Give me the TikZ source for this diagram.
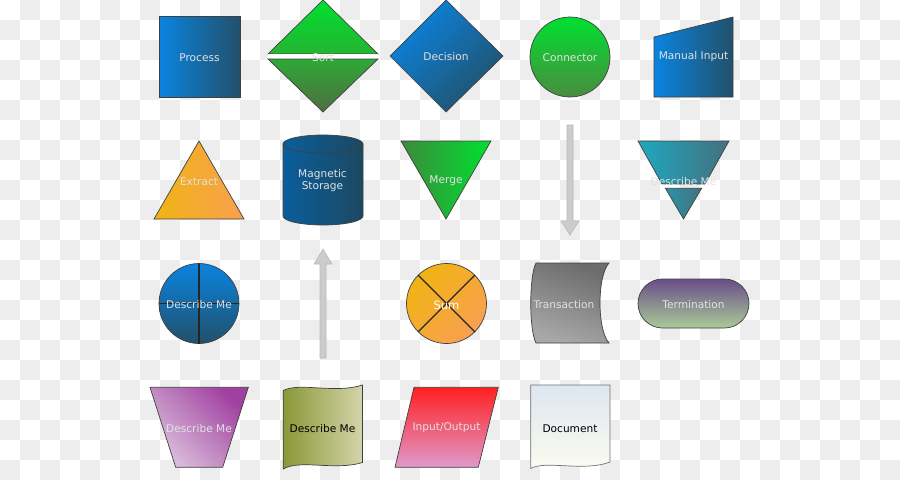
\documentclass[tikz,border=0pt]{standalone}
\usepackage{fontspec}
\setmainfont{DejaVu Sans}
\definecolor{bgg}{RGB}{237,237,237}
\definecolor{bluea}{HTML}{0A84E0}
\definecolor{blueb}{HTML}{22506A}
\definecolor{greena}{HTML}{00E030}
\definecolor{greenm}{HTML}{24B432}
\definecolor{greenn}{HTML}{2EA836}
\definecolor{greenb}{HTML}{4E6E40}
\definecolor{greenc}{HTML}{4A8C40}
\definecolor{mergea}{HTML}{3C8A3C}
\definecolor{orna}{HTML}{F0B414}
\definecolor{ornb}{HTML}{F8A050}
\definecolor{maga}{HTML}{0A5E9C}
\definecolor{magb}{HTML}{1C4860}
\definecolor{teala}{HTML}{1FA8C0}
\definecolor{tealb}{HTML}{44707E}
\definecolor{tealc}{HTML}{2A94A8}
\definecolor{transa}{HTML}{6C6C6C}
\definecolor{transb}{HTML}{A8A8A8}
\definecolor{terma}{HTML}{6A4E88}
\definecolor{termb}{HTML}{AACA98}
\definecolor{purpa}{HTML}{A040A0}
\definecolor{purpb}{HTML}{DCC0DC}
\definecolor{olivea}{HTML}{8A9838}
\definecolor{oliveb}{HTML}{D4D4AA}
\definecolor{reda}{HTML}{FF2020}
\definecolor{redb}{HTML}{E09ACC}
\definecolor{doca}{HTML}{DEE6F0}
\definecolor{docb}{HTML}{FCFCF0}
\definecolor{labc}{HTML}{E2E2E2}
\begin{document}
\begin{tikzpicture}[x=1pt,y=-1pt,
  shp/.style={draw=black!75, line width=0.7pt},
  lbl/.style={text=labc, font=\fontsize{10.6}{12.6}\selectfont, inner sep=0pt, align=center, yshift=-1pt},
  dlbl/.style={text=black, font=\fontsize{10.6}{12.6}\selectfont, inner sep=0pt, yshift=-1pt},
  crossline/.style={draw=black!85, line width=1.1pt},
  bigarrow/.style={fill=black!20, draw=black!27, line width=0.6pt}]
\useasboundingbox (0,0) rectangle (900,480);
% checkerboard background
\fill[white] (0,0) rectangle (900,480);
\foreach \j in {0,...,23}{\foreach \i in {0,...,44}{\ifodd\numexpr\i+\j\relax \fill[bgg] (\i*20,\j*20) rectangle ++(20,20);\fi}}
% ---- row 1
\shadedraw[shp, left color=bluea, right color=blueb] (159,16) rectangle (240,97);
\node[lbl] (process) at (199.5,57) {Process};
\shadedraw[shp, top color=greena, bottom color=greenm] (323,0) -- (378,54) -- (268,54) -- cycle;
\fill[white] (268,54.4) rectangle (378,58.6);
\shadedraw[shp, top color=greenn, bottom color=greenb] (268,59) -- (378,59) -- (323,112) -- cycle;
\node[lbl] (sort) at (323,57) {Sort};
\shadedraw[shp, top color=bluea, bottom color=blueb, shading angle=45] (446,0) -- (503,56) -- (446,112) -- (390,56) -- cycle;
\node[lbl] (decision) at (446,56) {Decision};
\shadedraw[shp, top color=greena, bottom color=greenc] (570,57) circle[radius=40];
\node[lbl] (connector) at (570,57) {Connector};
\shadedraw[shp, left color=bluea, right color=blueb] (654,37) -- (733,17) -- (733,97) -- (654,97) -- cycle;
\node[lbl] (manual) at (693.5,56) {Manual Input};
% ---- row 2
\shadedraw[shp, left color=orna, right color=ornb] (199,141) -- (244,219) -- (154,219) -- cycle;
\node[lbl] (extract) at (199,181) {Extract};
\shadedraw[shp, left color=maga, right color=magb] (283,144) -- (283,216)
  .. controls (283,221) and (300.9,225) .. (323,225)
  .. controls (345.1,225) and (363,221) .. (363,216) -- (363,144) -- cycle;
\shadedraw[shp, left color=maga, right color=magb] (323,144) ellipse [x radius=40, y radius=9];
\node[lbl] (magnetic) at (322.5,179.5) {Magnetic\\Storage};
\shadedraw[shp, left color=mergea, right color=greena] (401,141) -- (491,141) -- (446,219) -- cycle;
\node[lbl] (merge) at (446,180) {Merge};
\path[bigarrow] (567,125) -- (573,125) -- (573,221) -- (579,221) -- (570,235) -- (561,221) -- (567,221) -- cycle;
\shadedraw[shp, left color=teala, right color=tealb] (638,141) -- (729,141) -- (705,184) -- (662,184) -- cycle;
\shadedraw[shp, left color=tealc, right color=tealb] (665.4,188.3) -- (701.6,188.3) -- (683.5,219) -- cycle;
\node[lbl] (extract2) at (683.5,181) {Describe Me};
% ---- row 3
\shadedraw[shp, top color=bluea, bottom color=blueb] (199,303.5) circle[radius=40];
\draw[crossline] (199,263.5) -- (199,343.5) (159,303.5) -- (239,303.5);
\node[lbl] (orcircle) at (199,304) {Describe Me};
\path[bigarrow] (320,358) -- (326,358) -- (326,264) -- (332,264) -- (323,249) -- (314,264) -- (320,264) -- cycle;
\shadedraw[shp, top color=orna, bottom color=ornb, shading angle=45] (446.5,303.5) circle[radius=40];
\draw[crossline] (418.2,275.2) -- (474.8,331.8) (474.8,275.2) -- (418.2,331.8);
\node[lbl, text=white, font=\fontsize{11.5}{13}\selectfont] (sum) at (446.5,304) {Sum};
\shadedraw[shp, top color=transa, bottom color=transb, shading angle=-20] (536,263) -- (609,263)
  .. controls (597,276) and (597,330) .. (609,343) -- (536,343)
  .. controls (529,330) and (529,276) .. (536,263) -- cycle;
\node[lbl] (transaction) at (564,304) {Transaction};
\shadedraw[shp, top color=terma, bottom color=termb, rounded corners=24.5pt] (638,279) rectangle (749,328);
\node[lbl] (termination) at (693.5,304) {Termination};
% ---- row 4
\shadedraw[shp, top color=purpa, bottom color=purpb, shading angle=-45] (150,387.3) -- (248.3,387.3) -- (222.7,467.3) -- (175.7,467.3) -- cycle;
\node[lbl] (trap) at (199,428) {Describe Me};
\shadedraw[shp, left color=olivea, right color=oliveb] (283.3,390.5)
  .. controls (300,382) and (335,394) .. (362.5,385) -- (362.5,462.5)
  .. controls (335,471) and (300,459) .. (283.3,469) -- cycle;
\node[dlbl] (tape) at (322.5,428) {Describe Me};
\shadedraw[shp, top color=reda, bottom color=redb] (414,387.3) -- (498.3,387.3) -- (478.3,467.3) -- (395,467.3) -- cycle;
\node[lbl] (io) at (446.5,427) {Input/Output};
\shadedraw[draw=black!55, line width=0.7pt, top color=doca, bottom color=docb] (530.7,385) -- (610,385) -- (610,462)
  .. controls (585,472) and (545,460) .. (530.7,468.5) -- cycle;
\node[dlbl] (document) at (570,427.5) {Document};
\end{tikzpicture}
\end{document}
